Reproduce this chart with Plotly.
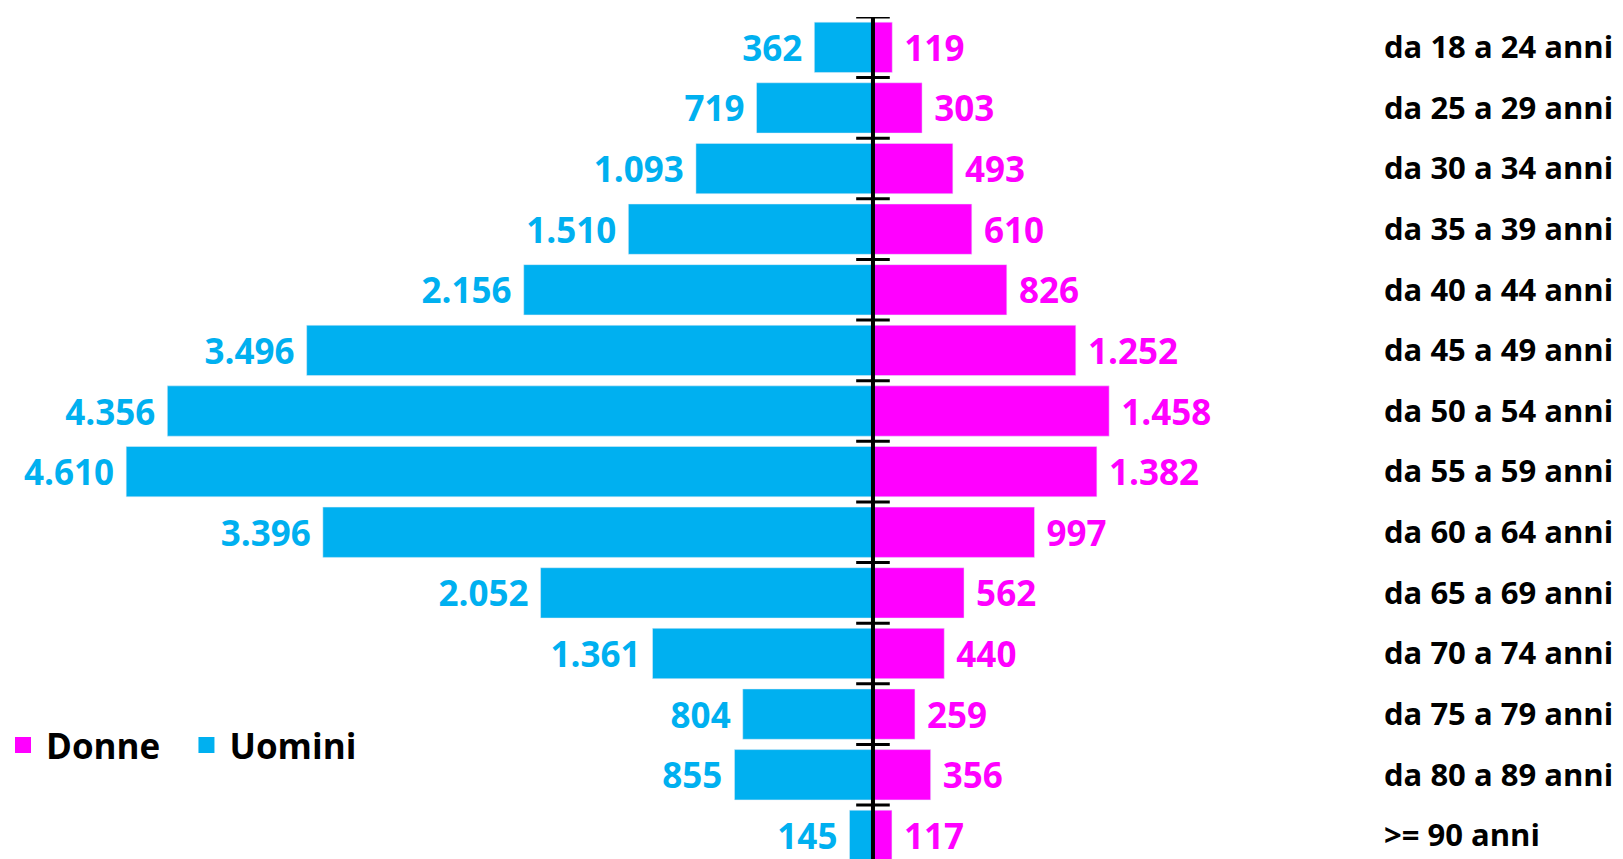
# Piramide per eta: uomini a sinistra, donne a destra

import plotly.graph_objects as go

categorie = ["da 18 a 24 anni", "da 25 a 29 anni", "da 30 a 34 anni", "da 35 a 39 anni",
             "da 40 a 44 anni", "da 45 a 49 anni", "da 50 a 54 anni", "da 55 a 59 anni",
             "da 60 a 64 anni", "da 65 a 69 anni", "da 70 a 74 anni", "da 75 a 79 anni",
             "da 80 a 89 anni", ">= 90 anni"]
uomini = [362, 719, 1093, 1510, 2156, 3496, 4356, 4610, 3396, 2052, 1361, 804, 855, 145]
donne = [119, 303, 493, 610, 826, 1252, 1458, 1382, 997, 562, 440, 259, 356, 117]

BLU = "#00B0F0"
MAGENTA = "#FF00FF"
FONT = "Open Sans"

def fmt(v):
    return f"{v:,}".replace(",", ".")

pos = list(range(len(categorie)))
confini = [p - 0.5 for p in pos] + [len(categorie) - 0.5]

fig = go.Figure()
fig.add_trace(go.Bar(
    y=pos, x=donne, orientation="h", name="Donne", marker_color=MAGENTA, width=0.83,
    text=["\u00a0" + fmt(v) for v in donne], textposition="outside", cliponaxis=False,
    textfont=dict(color=MAGENTA, size=35, family=FONT, weight="bold"),
    hoverinfo="skip", showlegend=False))
fig.add_trace(go.Bar(
    y=pos, x=[-v for v in uomini], orientation="h", name="Uomini", marker_color=BLU, width=0.83,
    text=[fmt(v) + "\u00a0" for v in uomini], textposition="outside", cliponaxis=False,
    textfont=dict(color=BLU, size=35, family=FONT, weight="bold"),
    hoverinfo="skip", showlegend=False))

# voci di legenda con quadrati piu grandi
for nome, col in [("Donne\u00a0\u00a0", MAGENTA), ("Uomini", BLU)]:
    fig.add_trace(go.Scatter(x=[None], y=[None], mode="markers", name=nome,
                             marker=dict(symbol="square", size=22, color=col)))

# tacche dell'asse centrale tra le classi
fig.add_trace(go.Scatter(
    x=[0] * len(confini), y=confini, mode="markers", showlegend=False, hoverinfo="skip",
    marker=dict(symbol="line-ew", size=24, line=dict(width=3, color="black"))))

fig.add_shape(type="line", xref="x", yref="paper", x0=0, x1=0, y0=0, y1=1,
              line=dict(color="black", width=4), layer="above")

fig.update_layout(
    width=1623, height=859,
    margin=dict(l=0, r=248, t=17, b=0),
    plot_bgcolor="white", paper_bgcolor="white",
    barmode="overlay",
    font=dict(family=FONT, color="black"),
    xaxis=dict(range=[-5389, 3099], showgrid=False, zeroline=False, showticklabels=False,
               automargin=False),
    yaxis=dict(range=[13.39, -0.5], side="right", tickvals=pos, ticktext=categorie,
               showgrid=False, zeroline=False, ticks="", ticklabelstandoff=8, automargin=False,
               tickfont=dict(size=31, family=FONT, weight="bold", color="black")),
    legend=dict(orientation="h", x=0, xanchor="left", y=0.135, yanchor="middle",
                traceorder="normal", itemwidth=36,
                font=dict(size=35, family=FONT, weight="bold")),
)

fig.write_html("out.html", config={"displayModeBar": False},
               post_script="document.body.style.margin='0';")
